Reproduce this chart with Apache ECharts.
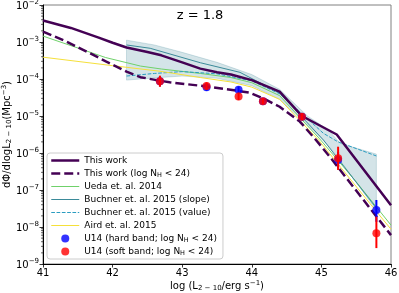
<!DOCTYPE html>
<html><head><meta charset="utf-8">
<script src="https://cdn.jsdelivr.net/npm/echarts@6/dist/echarts.min.js"></script>
<style>html,body{margin:0;padding:0;background:#fff}#c{width:399px;height:293px}</style>
</head><body><div id="c"></div>
<script>
// ---- data (log10 of dPhi/dlogL) ----
const thisWorkL   = [41.0, 41.4, 41.8, 42.0, 42.2, 42.5, 42.7, 43.0, 43.26, 43.5, 43.7, 44.0, 44.4, 44.72, 45.22, 46.0];
const thisWorkLog = [-2.42, -2.62, -2.88, -3.02, -3.15, -3.27, -3.36, -3.55, -3.72, -3.82, -3.88, -4.03, -4.34, -5.0, -5.5, -7.41];

const thisWorkNHL   = [41.0, 41.34, 41.68, 41.91, 42.2, 42.4, 42.63, 42.82, 43.35, 43.8, 43.97, 44.16, 44.4, 44.69, 44.91, 45.12, 46.0];
const thisWorkNHLog = [-2.72, -2.99, -3.31, -3.53, -3.80, -3.95, -4.03, -4.09, -4.20, -4.32, -4.37, -4.52, -4.75, -5.15, -5.62, -6.10, -8.22];

const uedaL   = [41.0, 41.45, 41.9, 42.4, 42.7, 43.26, 43.7, 44.0, 44.4, 44.99, 45.5, 46.0];
const uedaLog = [-2.84, -3.13, -3.42, -3.65, -3.73, -3.85, -3.96, -4.10, -4.45, -5.65, -6.78, -7.95];

const buchnerSlopeL   = [42.2, 42.54, 43.26, 43.83, 44.4, 45.03, 45.79];
const buchnerSlopeLog = [-3.08, -3.17, -3.56, -3.82, -4.38, -5.65, -7.49];

const buchnerValueL   = [42.2, 42.6, 43.0, 43.5, 44.0, 44.4, 44.79, 45.03, 45.24, 45.79];
const buchnerValueLog = [-3.92, -3.85, -3.80, -3.86, -4.05, -4.40, -5.06, -5.47, -5.70, -6.08];

const airdL   = [41.0, 42.0, 42.68, 43.26, 43.7, 44.0, 44.4, 44.96, 45.79, 46.0];
const airdLog = [-3.41, -3.64, -3.79, -3.96, -4.08, -4.22, -4.55, -5.65, -7.58, -8.06];

const bandL     = [42.2, 42.6, 43.0, 43.5, 44.0, 44.4, 44.8, 45.1, 45.27, 45.79];
const bandHiLog = [-2.95, -3.08, -3.28, -3.55, -3.88, -4.28, -5.0, -5.38, -5.74, -6.03];
const bandLoLog = [-4.03, -3.97, -3.92, -3.98, -4.18, -4.55, -5.25, -5.8, -6.2, -7.55];

const hardL      = [42.68, 43.35, 43.81, 44.16, 44.72, 45.24, 45.79];
const hardLog    = [-4.06, -4.22, -4.29, -4.60, -5.02, -6.19, -7.54];
const hardLoLog  = [-4.20, -4.32, -4.38, -4.67, -5.10, -6.42, -7.86];
const hardHiLog  = [-3.93, -4.12, -4.20, -4.53, -4.94, -5.97, -7.27];

const softL      = [42.68, 43.35, 43.81, 44.16, 44.72, 45.24, 45.79];
const softLog    = [-4.06, -4.19, -4.47, -4.60, -5.02, -6.14, -8.17];
const softLoLog  = [-4.21, -4.29, -4.57, -4.68, -5.11, -6.46, -8.57];
const softHiLog  = [-3.91, -4.09, -4.37, -4.52, -4.93, -5.83, -7.72];

const xTicks = [41, 42, 43, 44, 45, 46];
const yMinDecade = -9, yMaxDecade = -2;
const minorFactors = [2, 3, 4, 5, 6, 7, 8, 9];

const names = {
  tw: 'This work', twnh: 'This work (log NH < 24)', ueda: 'Ueda et. al. 2014',
  bs: 'Buchner et. al. 2015 (slope)', bv: 'Buchner et. al. 2015 (value)',
  aird: 'Aird et. al. 2015', hard: 'U14 (hard band; log NH < 24)', soft: 'U14 (soft band; log NH < 24)'
};
const colors = { tw: '#440154', ueda: '#6fd16a', bs: '#3b8a99', bv: '#2a9cc0', aird: '#f5e03a', hard: '#0000ff', soft: '#ff0000' };

const FONT = 'DejaVu Sans';
const pts = (xs, ys) => xs.map((x, i) => [x, Math.pow(10, ys[i])]);
const minorTicks = [];
for (let e = yMinDecade; e < yMaxDecade; e++) minorFactors.forEach(k => minorTicks.push([xTicks[0], k * Math.pow(10, e)]));

function lineSeries(name, xs, ys, color, width, type, z) {
  return { type: 'line', name, data: pts(xs, ys), symbol: 'none', showSymbol: false, z: z,
    lineStyle: { color, width, type: type || 'solid' }, itemStyle: { color }, silent: true };
}
function errSeries(name, xs, lo, hi, color, z) {
  return { type: 'custom', name, z, silent: true,
    data: xs.map((x, i) => [x, Math.pow(10, lo[i]), Math.pow(10, hi[i])]),
    encode: { x: 0, y: [1, 2] },
    renderItem: (p, api) => {
      const a = api.coord([api.value(0), api.value(1)]);
      const b = api.coord([api.value(0), api.value(2)]);
      return { type: 'line', shape: { x1: a[0], y1: a[1], x2: b[0], y2: b[1] }, style: { stroke: color, lineWidth: 2 } };
    } };
}

const chart = echarts.init(document.getElementById('c'), null, { renderer: 'canvas' });
const supRich = {
  b: { fontSize: 10, fontFamily: FONT, color: '#000', lineHeight: 12, verticalAlign: 'bottom' },
  s: { fontSize: 7, fontFamily: FONT, color: '#000', lineHeight: 7, verticalAlign: 'top' }
};
const nameRich = {
  b: { fontSize: 10, fontFamily: FONT, color: '#000', lineHeight: 14 },
  sub: { fontSize: 7, fontFamily: FONT, color: '#000', lineHeight: 14, padding: [5, 0, 0, 0] },
  sup: { fontSize: 7, fontFamily: FONT, color: '#000', lineHeight: 14, padding: [0, 0, 6, 0] }
};
const legendLine = (name, width, type, color) => ({ name, itemStyle: { opacity: 0 }, lineStyle: { width, type, color } });
chart.setOption({
  animation: false,
  backgroundColor: '#fff',
  grid: { left: 43, right: 8, top: 5, bottom: 29, containLabel: false, outerBoundsMode: 'none',
    show: true, borderColor: '#808080', borderWidth: 1, backgroundColor: 'transparent' },
  graphic: [{ type: 'text', x: 200, y: 16, style: { text: 'z = 1.8', font: '13px "DejaVu Sans"', fill: '#000', align: 'center', verticalAlign: 'middle' } }],
  xAxis: {
    type: 'value', min: xTicks[0], max: xTicks[xTicks.length - 1], interval: 1,
    splitLine: { show: false },
    axisLine: { show: true, onZero: false, lineStyle: { color: '#000', width: 1 } },
    axisTick: { show: true, length: 3.5, lineStyle: { color: '#000', width: 0.8 } },
    axisLabel: { fontSize: 10, fontFamily: FONT, color: '#000', margin: 4 },
    name: '{b|log (L}{sub|2 − 10}{b|/erg s}{sup|−1}{b|)}', nameLocation: 'middle', nameGap: 15, nameMoveOverlap: false,
    nameTextStyle: { rich: nameRich }
  },
  yAxis: {
    type: 'log', logBase: 10, min: Math.pow(10, yMinDecade), max: Math.pow(10, yMaxDecade), splitNumber: 7,
    splitLine: { show: false },
    axisLine: { show: true, onZero: false, lineStyle: { color: '#000', width: 1 } },
    axisTick: { show: true, length: 3.5, lineStyle: { color: '#000', width: 0.8 } },
    axisLabel: { margin: 4, rich: supRich, formatter: v => '{b|10}{s|−' + Math.round(-Math.log10(v)) + '}' },
    name: '{b|dΦ/dlogL}{sub|2 − 10}{b|(Mpc}{sup|−3}{b|)}', nameLocation: 'middle', nameGap: 29, nameRotate: 90, nameMoveOverlap: false,
    nameTextStyle: { rich: nameRich }
  },
  legend: {
    orient: 'vertical', left: 47, top: 153, itemWidth: 28, itemHeight: 8, itemGap: 2,
    padding: [2, 6, 2, 3], backgroundColor: 'rgba(255,255,255,0.8)', borderColor: '#cccccc', borderWidth: 1, borderRadius: 3,
    selectedMode: false,
    textStyle: { fontSize: 9, fontFamily: FONT, color: '#000', lineHeight: 11,
      rich: { n: { fontSize: 9, fontFamily: FONT, color: '#000', lineHeight: 11 },
              h: { fontSize: 6.5, fontFamily: FONT, color: '#000', lineHeight: 11, padding: [4, 0, 0, 0] } } },
    formatter: n => n.indexOf('NH') >= 0 ? '{n|' + n.split('NH')[0] + 'N}{h|H}{n|' + n.split('NH')[1] + '}' : n,
    data: [
      legendLine(names.tw, 2.5, 'solid', colors.tw), legendLine(names.twnh, 2.5, [9, 4], colors.tw),
      legendLine(names.ueda, 1, 'solid', colors.ueda), legendLine(names.bs, 1, 'solid', colors.bs),
      legendLine(names.bv, 1, [3.7, 1.6], colors.bv), legendLine(names.aird, 1, 'solid', colors.aird),
      { name: names.hard, icon: 'circle' }, { name: names.soft, icon: 'circle' }
    ]
  },
  series: [
    { type: 'custom', name: 'band', z: 1, silent: true,
      data: bandL.map((x, i) => [x, Math.pow(10, bandLoLog[i]), Math.pow(10, bandHiLog[i])]),
      encode: { x: 0, y: [1, 2] },
      renderItem: (p, api) => {
        if (p.dataIndex !== 0) return null;
        const top = bandL.map((x, i) => api.coord([x, Math.pow(10, bandHiLog[i])]));
        const bot = bandL.map((x, i) => api.coord([x, Math.pow(10, bandLoLog[i])])).reverse();
        return { type: 'polygon', shape: { points: top.concat(bot) },
          style: { fill: 'rgba(42,120,142,0.2)', stroke: 'rgba(42,120,142,0.2)', lineWidth: 1 } };
      } },
    { type: 'custom', name: 'minorTicks', z: 10, silent: true, clip: false, data: minorTicks,
      renderItem: (p, api) => {
        const c = api.coord([api.value(0), api.value(1)]);
        return { type: 'line', shape: { x1: c[0], y1: c[1], x2: c[0] - 2, y2: c[1] }, style: { stroke: '#000', lineWidth: 0.6 } };
      } },
    lineSeries(names.ueda, uedaL, uedaLog, colors.ueda, 1, 'solid', 3),
    lineSeries(names.bs, buchnerSlopeL, buchnerSlopeLog, colors.bs, 1, 'solid', 3),
    lineSeries(names.bv, buchnerValueL, buchnerValueLog, colors.bv, 1, [3.7, 1.6], 3),
    lineSeries(names.aird, airdL, airdLog, colors.aird, 1, 'solid', 3),
    lineSeries(names.tw, thisWorkL, thisWorkLog, colors.tw, 2.5, 'solid', 4),
    lineSeries(names.twnh, thisWorkNHL, thisWorkNHLog, colors.tw, 2.5, [9, 4], 4),
    errSeries('hardErr', hardL, hardLoLog, hardHiLog, colors.hard, 5),
    { type: 'scatter', name: names.hard, data: pts(hardL, hardLog), symbol: 'circle', symbolSize: 8, z: 5,
      itemStyle: { color: colors.hard }, silent: true },
    errSeries('softErr', softL, softLoLog, softHiLog, colors.soft, 6),
    { type: 'scatter', name: names.soft, data: pts(softL, softLog), symbol: 'circle', symbolSize: 8, z: 6,
      itemStyle: { color: colors.soft }, silent: true }
  ]
});
</script>
</body></html>
